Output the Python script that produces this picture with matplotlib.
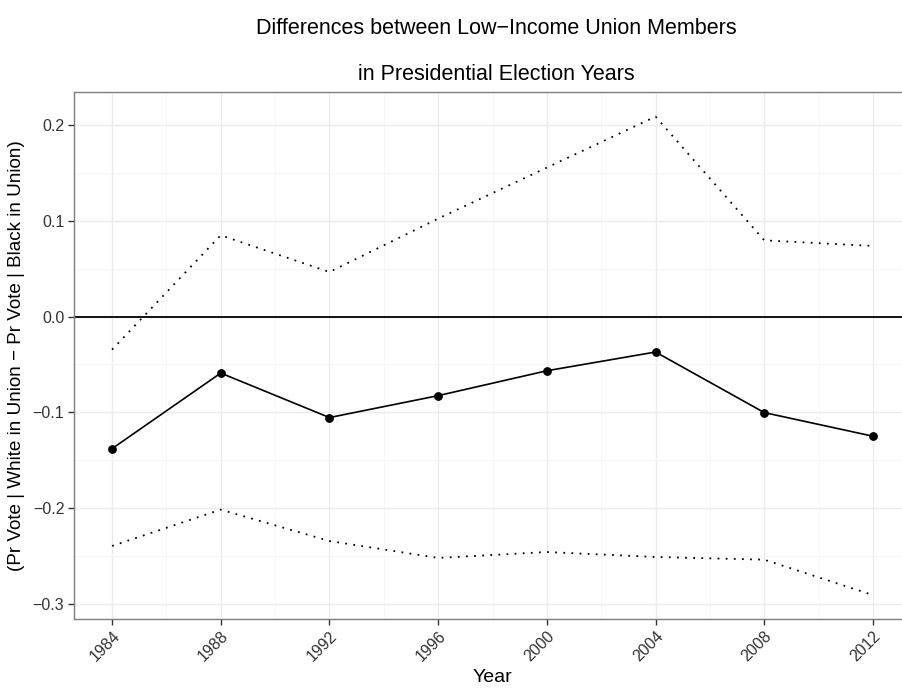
import matplotlib
matplotlib.use("Agg")
import matplotlib.pyplot as plt
from matplotlib.ticker import MultipleLocator

plt.rcParams['font.family'] = ['Liberation Sans', 'DejaVu Sans']

years = [1984, 1988, 1992, 1996, 2000, 2004, 2008, 2012]
difference = [-0.138, -0.059, -0.1055, -0.0826, -0.0566, -0.037, -0.1003, -0.125]
upper_bound = [-0.0345, 0.085, 0.0466, 0.1024, 0.1557, 0.209, 0.0797, 0.0738]
lower_bound = [-0.2397, -0.2017, -0.2345, -0.2522, -0.246, -0.2512, -0.254, -0.291]

title_lines = ["Differences between Low\u2212Income Union Members",
               "in Presidential Election Years"]
ylabel = "(Pr Vote | White in Union \u2212 Pr Vote | Black in Union)"
xlabel = "Year"

W, H = 903, 688
fig = plt.figure(figsize=(W / 100, H / 100), dpi=100)
# panel spans x 74..911 px, y 92..619 px
left, right, top, bottom = 74, 911, 92, 619
ax = fig.add_axes([left / W, 1 - bottom / H, (right - left) / W, (bottom - top) / H])

ax.set_xlim(1982.6, 2013.4)
ax.set_ylim(-0.316, 0.2347)

ax.xaxis.set_major_locator(MultipleLocator(4))
ax.xaxis.set_minor_locator(MultipleLocator(2))
ax.yaxis.set_major_locator(MultipleLocator(0.1))
ax.yaxis.set_minor_locator(MultipleLocator(0.05))

ax.grid(which='major', color='#EBEBEB', linewidth=1.0, zorder=0)
ax.grid(which='minor', color='#F6F6F6', linewidth=0.7, zorder=0)
ax.set_axisbelow(True)

for s in ax.spines.values():
    s.set_color('#7F7F7F')
    s.set_linewidth(1.0)

ax.axhline(0, color='black', linewidth=1.3, zorder=2)

dot = (0, (1, 3.5))
ax.plot(years, upper_bound, color='black', linestyle=dot, linewidth=1.3,
        dash_capstyle='butt', zorder=3)
ax.plot(years, lower_bound, color='black', linestyle=dot, linewidth=1.3,
        dash_capstyle='butt', zorder=3)
ax.plot(years, difference, color='black', linewidth=1.2, marker='o',
        markersize=5.3, zorder=4)

ax.set_xticks(years)
ax.set_xticklabels([str(y) for y in years], rotation=45, ha='right',
                   rotation_mode='anchor', fontsize=11.5, color='#333333')
ax.set_yticks([-0.3, -0.2, -0.1, 0.0, 0.1, 0.2])
ax.set_yticklabels(['\u22120.3', '\u22120.2', '\u22120.1', '0.0', '0.1', '0.2'],
                   fontsize=11.5, color='#333333')
ax.tick_params(which='major', length=4, width=1.0, color='#333333', pad=3)
ax.tick_params(which='minor', length=0)

fig.text(492 / W, 1 - 677 / H, xlabel, ha='center', va='center', fontsize=14)
fig.text(17 / W, 1 - ((top + bottom) / 2) / H, ylabel, rotation=90,
         ha='center', va='center', fontsize=13.6)

fig.text(496 / W, 1 - 28 / H, title_lines[0], ha='center', va='center', fontsize=15.5)
fig.text(496 / W, 1 - 74 / H, title_lines[1], ha='center', va='center', fontsize=15.5)

fig.savefig("out.png", dpi=100)
